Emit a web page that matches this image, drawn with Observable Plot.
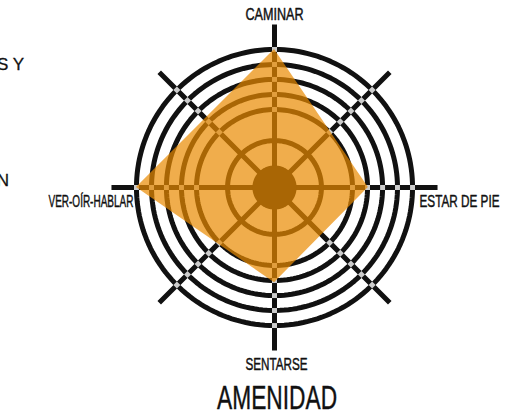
<!DOCTYPE html>
<html>
<head>
<meta charset="utf-8">
<script src="https://cdn.jsdelivr.net/npm/d3@7"></script>
<script src="https://cdn.jsdelivr.net/npm/@observablehq/plot@0.6"></script>
<style>
  html, body { margin: 0; padding: 0; background: #fff; width: 512px; height: 413px; overflow: hidden; }
  #wrap { position: relative; width: 512px; height: 413px; }
  .frag { position: absolute; font-family: "Liberation Sans", Arial, sans-serif; font-size: 17px; color: #111; line-height: 1; white-space: nowrap; -webkit-text-stroke: 0.3px #111; }
  #title { position: absolute; left: 0; top: 381px; width: 554px; text-align: center;
           font-family: "Liberation Sans", Arial, sans-serif;
           font-size: 33px; line-height: 1; color: #111; -webkit-text-stroke: 0.4px #111; }
  #titleText { display: inline-block; transform-origin: 50% 50%; }
</style>
</head>
<body>
<div id="wrap">
  <div id="chart"></div>
  <div class="frag" style="right:488px; top:56px;">S Y</div>
  <div class="frag" style="right:503px; top:172px;">N</div>
  <div id="title"><span id="titleText"></span></div>
</div>
<script>
// ---- data ----
const categories = ["CAMINAR", "ESTAR DE PIE", "SENTARSE", "VER-OÍR-HABLAR"];
const categoryAngles = [180, 90, 0, -90];           // longitude of each axis
const seriesValues = [100, 68, 69, 100];             // AMENIDAD
const ringLevels = [34, 56.5, 67.4, 78.3, 89.1, 100];
const dottedLevels = [56.5, 67.4, 78.3, 89.1, 100];
const coreLevel = 16;
const spokeAngles = [180, 135, 90, 45, 0, -45, -90, -135];
const spokeExtent = 118.1;
const titleText = "AMENIDAD";

// ---- helpers ----
const deg = v => v * 0.5;
const lat = v => 90 - deg(v);
const circle = v => d3.geoCircle().center([0, 90]).radius(deg(v))();

const points = categories.map((c, i) => ({key: c, a: categoryAngles[i], value: seriesValues[i]}));
const dots = dottedLevels.flatMap(v => spokeAngles.map(a => ({a, v})));

const labelStyle = {
  "CAMINAR":        {v: spokeExtent, anchor: "middle", dx: 0,  dy: -10, w: 58},
  "ESTAR DE PIE":   {v: 100,         anchor: "start",  dx: 7,  dy: 14,  w: 80},
  "SENTARSE":       {v: spokeExtent, anchor: "middle", dx: 2,  dy: 14,  w: 62},
  "VER-OÍR-HABLAR": {v: 100,         anchor: "end",    dx: -3, dy: 14,  w: 85}
};
const labels = points.map(p => ({...p, ...labelStyle[p.key]}));

const font = '"Liberation Sans", Arial, sans-serif';

const chart = Plot.plot({
  width: 512,
  height: 372,
  marginTop: 24,
  marginBottom: 22,
  marginLeft: 111,
  marginRight: 75,
  projection: {
    type: "azimuthal-equidistant",
    rotate: [0, -90],
    domain: circle(spokeExtent),
    clip: false
  },
  marks: [
    Plot.link(spokeAngles, {x1: a => a, y1: 90, x2: a => a, y2: lat(spokeExtent), stroke: "#111", strokeWidth: 5}),
    Plot.geo(ringLevels, {geometry: v => circle(v), stroke: "#111", strokeWidth: 5, fill: "none"}),
    Plot.geo([coreLevel], {geometry: v => circle(v), fill: "#111", stroke: "none"}),
    Plot.dot(dots, {x: "a", y: d => lat(d.v), symbol: "square", r: 2.8, fill: "#cccccc", stroke: "none", rotate: "a"}),
    Plot.area(points, {x1: "a", y1: d => lat(d.value), x2: 0, y2: 90, curve: "linear-closed", fill: "#ea8a00", fillOpacity: 0.7, stroke: "none"}),
    Plot.text(labels, {
      x: "a", y: d => lat(d.v), text: "key",
      fontSize: 16.5, fontFamily: font, fill: "#111", stroke: "#111", strokeWidth: 0.45
    })
  ]
});
document.getElementById("chart").appendChild(chart);

// per-label offsets and widths
chart.querySelectorAll("text").forEach(t => {
  const s = labelStyle[t.textContent];
  if (!s) return;
  t.setAttribute("text-anchor", s.anchor);
  const tr = t.getAttribute("transform") || "";
  t.setAttribute("transform", tr + ` translate(${s.dx},${s.dy})`);
  t.setAttribute("textLength", s.w);
  t.setAttribute("lengthAdjust", "spacingAndGlyphs");
});

// title, condensed to the reference width
const tt = document.getElementById("titleText");
tt.textContent = titleText;
const w = tt.getBoundingClientRect().width;
tt.style.transform = `scaleX(${120 / w})`;
</script>
</body>
</html>
